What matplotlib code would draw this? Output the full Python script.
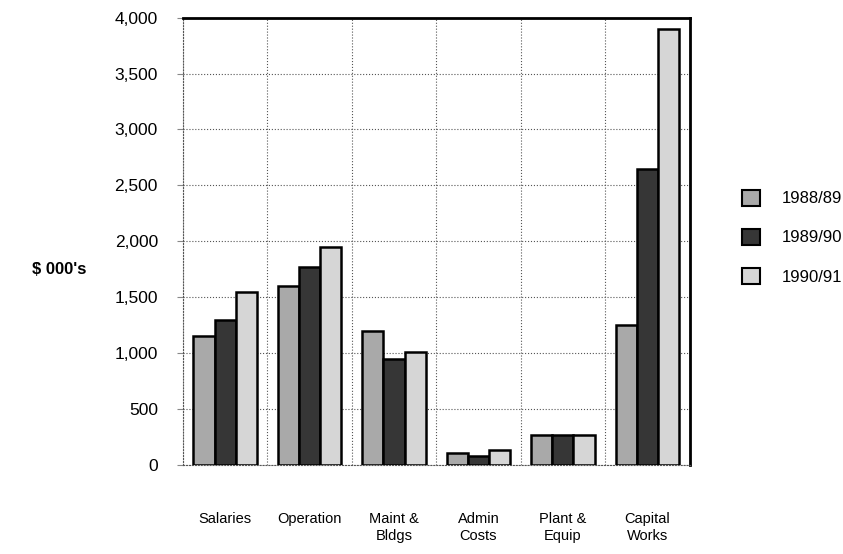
import numpy as np
import matplotlib.pyplot as plt
from matplotlib.patches import Patch

plt.rcParams['font.family'] = ['Liberation Sans', 'DejaVu Sans']

categories = ["Salaries", "Operation", "Maint &\nBldgs", "Admin\nCosts", "Plant &\nEquip", "Capital\nWorks"]
years = ["1988/89", "1989/90", "1990/91"]
v_8889 = [1150, 1600, 1200, 110, 270, 1250]
v_8990 = [1300, 1770, 950, 80, 270, 2650]
v_9091 = [1550, 1950, 1010, 130, 270, 3900]
colors = ["#a9a9a9", "#363636", "#d6d6d6"]

fig = plt.figure(figsize=(8.43, 5.54), dpi=100)
ax = fig.add_axes([0.217, 0.161, 0.601, 0.807])

x = np.arange(len(categories))
w = 0.25
for i, vals in enumerate([v_8889, v_8990, v_9091]):
    ax.bar(x + (i - 1) * w, vals, width=w, color=colors[i], edgecolor="black",
           linewidth=1.8, zorder=3)

ax.set_xlim(-0.5, len(categories) - 0.5)
ax.set_ylim(0, 4000)
ax.set_yticks(np.arange(0, 4001, 500))
ax.set_yticklabels([f"{v:,}" for v in range(0, 4001, 500)], fontsize=12.5)
ax.set_xticks(x)
ax.set_xticklabels(categories, fontsize=10.5, linespacing=1.25)
ax.set_xticks(np.arange(-0.5, len(categories), 1), minor=True)
ax.tick_params(axis="x", which="both", length=0, pad=34)
ax.tick_params(axis="y", length=4, color="#888888", pad=14)

ax.grid(axis="y", which="major", ls=":", lw=0.8, color="#555555", zorder=0)
ax.grid(axis="x", which="minor", ls=":", lw=0.8, color="#555555", zorder=0)

ax.spines["top"].set_linewidth(2)
ax.spines["right"].set_linewidth(2)
ax.spines["left"].set_linestyle(":")
ax.spines["left"].set_color("#555555")
ax.spines["bottom"].set_linestyle(":")
ax.spines["bottom"].set_color("#555555")

fig.text(0.038, 0.513, "$ 000's", fontsize=12, fontweight="bold", va="center")

handles = [Patch(facecolor=c, edgecolor="black", linewidth=1.5) for c in colors]
fig.legend(handles, years, loc="center left", bbox_to_anchor=(0.862, 0.572),
           frameon=False, fontsize=12, handlelength=1.1, handleheight=1.1,
           labelspacing=1.35, handletextpad=1.3)

fig.savefig("out.png", dpi=100)
